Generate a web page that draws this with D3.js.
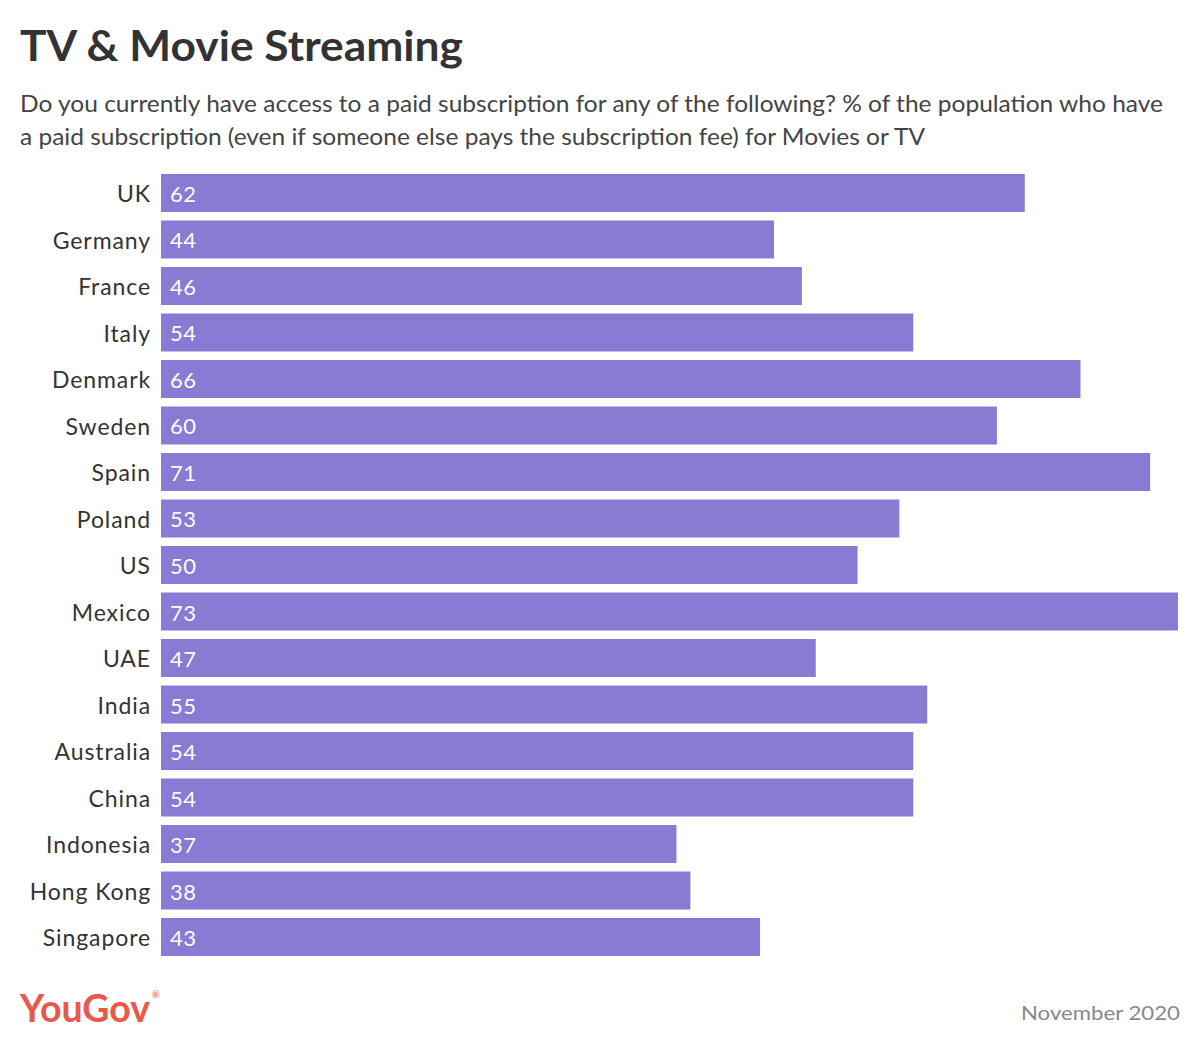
<!DOCTYPE html>
<html><head><meta charset="utf-8">
<script src="https://cdn.jsdelivr.net/npm/d3@7"></script>
<style>body{margin:0;background:#fff;} svg{display:block;font-family:Lato,"Open Sans",sans-serif;}</style>
</head><body>
<script>
const categories = ["UK","Germany","France","Italy","Denmark","Sweden","Spain","Poland","US","Mexico","UAE","India","Australia","China","Indonesia","Hong Kong","Singapore"];
const values = [62,44,46,54,66,60,71,53,50,73,47,55,54,54,37,38,43];
const title = "TV & Movie Streaming";
const subtitleLines = ["Do you currently have access to a paid subscription for any of the following? % of the population who have","a paid subscription (even if someone else pays the subscription fee) for Movies or TV"];
const subtitleWidths = [1143, 905];
const dateLabel = "November 2020";

const W = 1200, H = 1049;
const svg = d3.select("body").append("svg").attr("width", W).attr("height", H);

svg.append("text").attr("x", 20).attr("y", 61).text(title)
  .attr("font-size", 42).attr("font-weight", 700).attr("fill", "#333")
  .attr("textLength", 443).attr("lengthAdjust", "spacingAndGlyphs");
subtitleLines.forEach((t, i) => {
  svg.append("text").attr("x", 20).attr("y", 112 + i * 33).text(t)
    .attr("font-size", 23).attr("fill", "#444")
    .attr("textLength", subtitleWidths[i]).attr("lengthAdjust", "spacingAndGlyphs");
});

const x = d3.scaleLinear().domain([0, 73]).range([161, 1178]);
const y = d3.scaleBand().domain(categories).range([174, 956]).paddingInner(0.183).paddingOuter(0);

const g = svg.append("g");
g.selectAll("rect").data(categories).join("rect")
  .attr("x", x(0)).attr("y", d => y(d))
  .attr("width", (d, i) => x(values[i]) - x(0))
  .attr("height", y.bandwidth())
  .attr("fill", "#877bd4");

g.selectAll("text.val").data(categories).join("text").attr("class", "val")
  .attr("x", x(0) + 9).attr("y", d => y(d) + y.bandwidth() / 2 + 9)
  .text((d, i) => values[i]).attr("font-size", 22).attr("fill", "#fff").attr("letter-spacing", 0.5);

const yAxis = d3.axisLeft(y).tickSize(0).tickPadding(10);
const ax = svg.append("g").attr("transform", `translate(${x(0)},0)`).call(yAxis);
ax.select(".domain").remove();
ax.selectAll("text").attr("font-size", 23).attr("fill", "#333")
  .attr("font-family", "Lato, 'Open Sans', sans-serif").attr("letter-spacing", 0.9)
  .attr("dy", "0.4em");

svg.append("text").attr("x", 20).attr("y", 1022).text("YouGov")
  .attr("font-size", 38).attr("font-weight", 700).attr("fill", "#e8594c")
  .attr("textLength", 130).attr("lengthAdjust", "spacingAndGlyphs");
svg.append("text").attr("x", 152).attr("y", 998).text("®").attr("font-size", 9).attr("fill", "#e8594c");
svg.append("text").attr("x", 1180).attr("y", 1020).attr("text-anchor", "end").text(dateLabel)
  .attr("font-size", 20).attr("fill", "#888")
  .attr("textLength", 159).attr("lengthAdjust", "spacingAndGlyphs");
</script>
</body></html>
